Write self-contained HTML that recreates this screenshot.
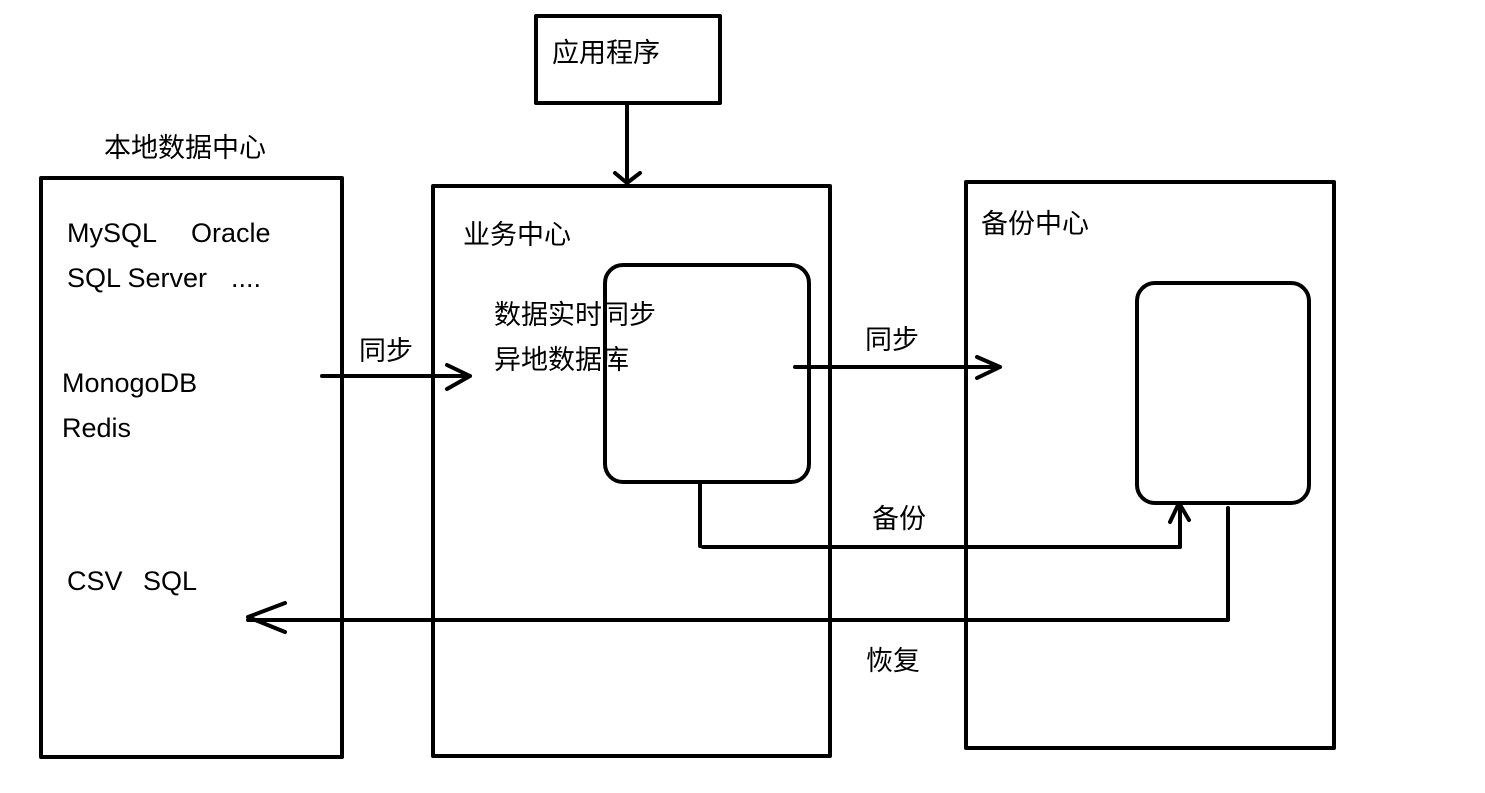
<!DOCTYPE html>
<html><head><meta charset="utf-8"><style>
html,body{margin:0;padding:0;background:#fff;width:1485px;height:793px;overflow:hidden}
svg text{font-family:"Liberation Sans","Noto Sans CJK SC",sans-serif;font-size:27px;fill:#000}
</style></head><body>
<svg width="1485" height="793" xmlns="http://www.w3.org/2000/svg">
<g fill="none" stroke="#000" stroke-width="4" stroke-linecap="round" stroke-linejoin="round">
<rect x="536" y="16" width="184" height="87"/>
<rect x="41" y="178" width="301" height="579"/>
<rect x="433" y="186" width="397" height="570"/>
<rect x="966" y="182" width="368" height="566"/>
<rect x="605" y="265" width="204" height="217" rx="18"/>
<rect x="1137" y="283" width="172" height="220" rx="18"/>
<path d="M627 103 V183 M615 173 L627 183 L640 173"/>
<path d="M322 376 H470 M447 365 L470 376 L447 389"/>
<path d="M795 367 H1000 M977 357 L1000 367 L977 378"/>
<path d="M700 482 V546 M703 547 H1180 V503 M1170 522 L1179 503 L1189 520"/>
<path d="M1228 508 V620 H248 M285 603 L248 617 L285 632"/>
</g>
<text x="552" y="62">应用程序</text>
<text x="104" y="157">本地数据中心</text>
<text x="67" y="242">MySQL</text>
<text x="191" y="242">Oracle</text>
<text x="67" y="287">SQL Server</text>
<text x="231" y="287">....</text>
<text x="62" y="392">MonogoDB</text>
<text x="62" y="437">Redis</text>
<text x="67" y="590">CSV</text>
<text x="143" y="590">SQL</text>
<text x="359" y="360">同步</text>
<text x="463" y="244">业务中心</text>
<text x="494" y="324">数据实时同步</text>
<text x="494" y="369">异地数据库</text>
<text x="865" y="349">同步</text>
<text x="872" y="528">备份</text>
<text x="866" y="670">恢复</text>
<text x="981" y="233">备份中心</text>
</svg>
</body></html>
